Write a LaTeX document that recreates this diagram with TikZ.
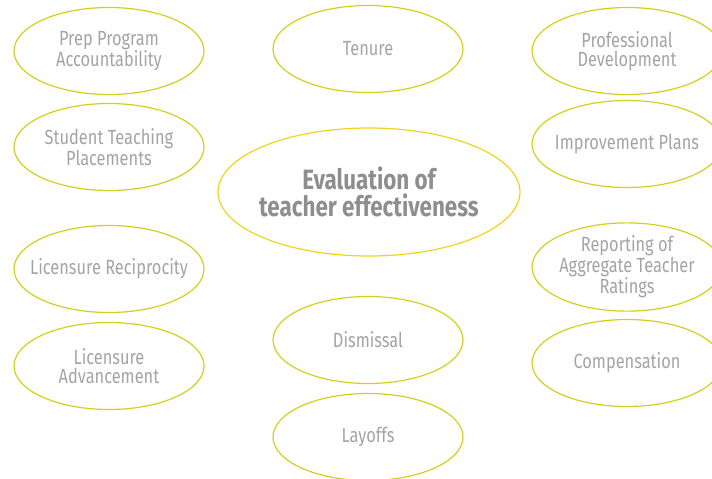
\documentclass[tikz,border=0pt]{standalone}
\usepackage{fontspec}
\setmainfont{Fira Sans}[FakeStretch=0.8]
\usetikzlibrary{shapes.geometric}

\definecolor{ringgreen}{HTML}{D2CF1E}
\definecolor{ringyellow}{HTML}{F2D21A}
\definecolor{labelgray}{HTML}{A4A4A4}
\definecolor{titlegray}{HTML}{8E8E8E}

\tikzset{
  topic/.style={ellipse, draw=ringgreen, line width=1.2pt, minimum width=190pt,
    minimum height=87pt, inner xsep=-30pt, inner ysep=0pt, align=center,
    text=labelgray, font=\fontsize{20.5}{19.5}\selectfont},
  hub/.style={ellipse, draw=ringyellow, line width=1.2pt, minimum width=302pt,
    minimum height=128pt, inner xsep=-40pt, inner ysep=0pt, align=center,
    text=titlegray, font=\fontsize{28}{27}\selectfont\bfseries}
}

\begin{document}
\begin{tikzpicture}[x=1pt, y=1pt]
  \clip (0,0) rectangle (712,-479);
  % centre
  \node[hub] (eval) at (369,-192) {Evaluation of\\teacher effectiveness};
  % left column
  \node[topic] (prep) at (109,-51) {Prep Program\\Accountability};
  \node[topic] (student) at (109,-147) {Student Teaching\\Placements};
  \node[topic] (recip) at (109,-269) {Licensure Reciprocity};
  \node[topic] (advance) at (109,-366) {Licensure\\Advancement};
  % middle column
  \node[topic] (tenure) at (368,-49) {Tenure};
  \node[topic] (dismissal) at (368,-340) {Dismissal};
  \node[topic] (layoffs) at (368,-437) {Layoffs};
  % right column
  \node[topic] (profdev) at (627,-51) {Professional\\Development};
  \node[topic] (improve) at (627,-144) {Improvement Plans};
  \node[topic] (report) at (627,-267) {Reporting of\\Aggregate Teacher\\Ratings};
  \node[topic] (comp) at (627,-363) {Compensation};
\end{tikzpicture}
\end{document}
